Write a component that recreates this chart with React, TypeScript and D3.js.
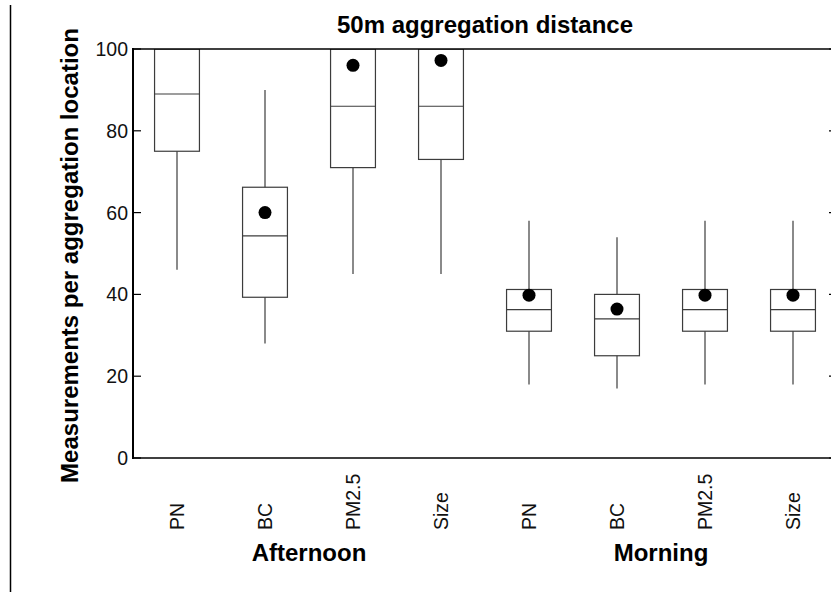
import React from "react";
import * as d3 from "d3";

// Box-plot summaries per pollutant and time of day
const groups = ["Afternoon", "Morning"];
const categories = ["Afternoon|PN", "Afternoon|BC", "Afternoon|PM2.5", "Afternoon|Size",
  "Morning|PN", "Morning|BC", "Morning|PM2.5", "Morning|Size"];
const whiskerLow = [46, 28, 45, 45, 18, 17, 18, 18];
const q1 = [75, 39.3, 71, 73, 31, 25, 31, 31];
const medians = [89, 54.3, 86, 86, 36.3, 34, 36.3, 36.3];
const q3 = [100, 66.2, 100, 100, 41.2, 40, 41.2, 41.2];
const whiskerHigh = [100, 90, 100, 100, 58, 54, 58, 58];
const means: (number | null)[] = [null, 60, 96, 97.2, 39.8, 36.4, 39.8, 39.8];
const yTicks = [0, 20, 40, 60, 80, 100];

const W = 831;
const H = 592;
const M = { left: 133, right: 837, top: 49, bottom: 458 };
const FONT = "'Liberation Sans', Arial, Helvetica, sans-serif";

export default function App() {
  const x = d3.scaleBand<string>().domain(categories).range([M.left, M.right]).padding(0);
  const y = d3.scaleLinear().domain([0, 100]).range([M.bottom, M.top]);
  const boxW = x.bandwidth() * 0.51;
  const cx = (c: string) => (x(c) as number) + x.bandwidth() / 2;
  const boxStroke = "#3c3c3c";

  const groupCenter = (g: string) => {
    const cs = categories.filter((c) => c.startsWith(g + "|")).map(cx);
    return (d3.min(cs)! + d3.max(cs)!) / 2;
  };

  return (
    <svg
      width={W}
      height={H}
      style={{ position: "absolute", left: 0, top: 0, background: "#fff" }}
      fontFamily={FONT}
    >
      <defs>
        <clipPath id="plot-clip">
          <rect x={M.left} y={M.top} width={M.right - M.left} height={M.bottom - M.top} />
        </clipPath>
      </defs>

      {/* left rule */}
      <line x1={10.5} x2={10.5} y1={5} y2={592} stroke="#000" strokeWidth={1.5} />

      {/* title */}
      <text x={(M.left + M.right) / 2} y={33} textAnchor="middle" fontWeight="bold" fontSize={24}>
        50m aggregation distance
      </text>

      {/* boxes */}
      <g clipPath="url(#plot-clip)">
        {categories.map((c, i) => {
          const c0 = cx(c);
          return (
            <g key={c}>
              <line x1={c0} x2={c0} y1={y(q3[i])} y2={y(whiskerHigh[i])} stroke={boxStroke} strokeWidth={1.2} />
              <line x1={c0} x2={c0} y1={y(q1[i])} y2={y(whiskerLow[i])} stroke={boxStroke} strokeWidth={1.2} />
              <rect
                x={c0 - boxW / 2}
                y={y(q3[i])}
                width={boxW}
                height={y(q1[i]) - y(q3[i])}
                fill="none"
                stroke={boxStroke}
                strokeWidth={1.2}
              />
              <line x1={c0 - boxW / 2} x2={c0 + boxW / 2} y1={y(medians[i])} y2={y(medians[i])} stroke={boxStroke} strokeWidth={1.2} />
              {means[i] != null && <circle cx={c0} cy={y(means[i] as number)} r={6.5} fill="#000" />}
            </g>
          );
        })}
      </g>

      {/* frame */}
      <line x1={M.left} x2={M.left} y1={M.top - 1} y2={M.bottom + 1} stroke="#000" strokeWidth={2} />
      <line x1={M.left} x2={M.right} y1={M.top} y2={M.top} stroke="#000" strokeWidth={1.4} />
      <line x1={M.left} x2={M.right} y1={M.bottom} y2={M.bottom} stroke="#000" strokeWidth={1.6} />
      <line x1={M.right} x2={M.right} y1={M.top} y2={M.bottom} stroke="#000" strokeWidth={1.6} />

      {/* y ticks */}
      {yTicks.map((t) => (
        <g key={t}>
          <line x1={M.left} x2={M.left + 8} y1={y(t)} y2={y(t)} stroke="#000" strokeWidth={1.2} />
          <line x1={M.right - 8} x2={M.right} y1={y(t)} y2={y(t)} stroke="#000" strokeWidth={1.2} />
          <text x={128} y={y(t)} dy="0.36em" textAnchor="end" fontSize={19.5} fill="#111">
            {t}
          </text>
        </g>
      ))}

      {/* category labels */}
      {categories.map((c) => {
        const label = c.split("|")[1];
        return (
          <text
            key={c}
            transform={`translate(${cx(c)},530) rotate(-90)`}
            dy="0.36em"
            textAnchor="start"
            fontSize={19.5}
            fill="#111"
          >
            {label}
          </text>
        );
      })}

      {/* group labels */}
      {groups.map((g) => (
        <text key={g} x={groupCenter(g)} y={561} textAnchor="middle" fontWeight="bold" fontSize={24}>
          {g}
        </text>
      ))}

      {/* y axis title */}
      <text
        transform={`translate(78,${(M.top + M.bottom) / 2 + 2}) rotate(-90)`}
        textAnchor="middle"
        fontWeight="bold"
        fontSize={24}
      >
        Measurements per aggregation location
      </text>
    </svg>
  );
}
